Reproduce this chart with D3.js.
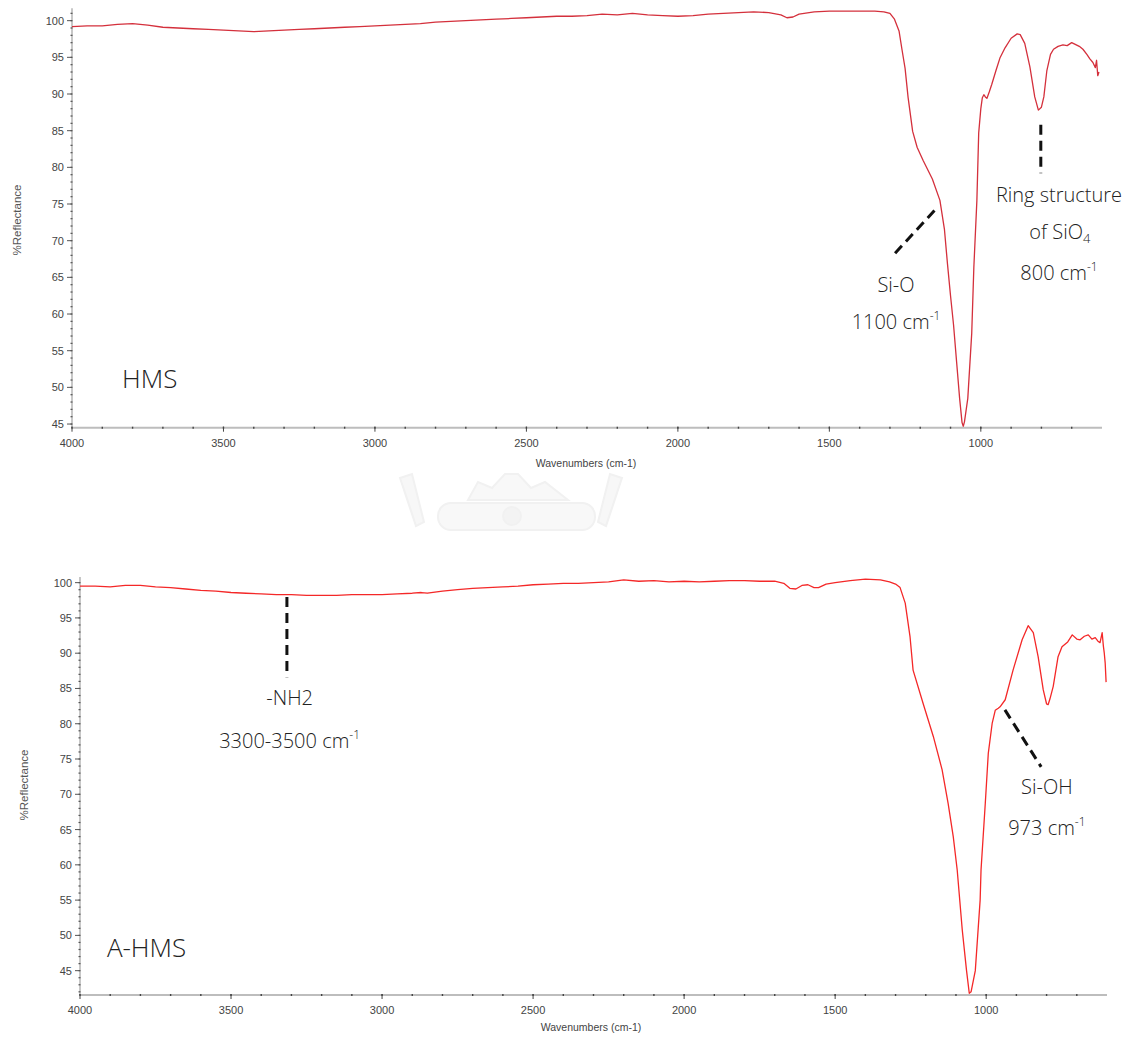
<!DOCTYPE html>
<html>
<head>
<meta charset="utf-8">
<script src="https://cdn.jsdelivr.net/npm/d3@7"></script>
<style>
  html, body { margin: 0; padding: 0; background: #fff; }
  svg { display: block; }
</style>
</head>
<body>
<svg id="chart" width="1134" height="1037"></svg>
<script>
// ---------------- DATA ----------------
const hmsWavenumbers = [4000,3950,3900,3850,3800,3750,3700,3650,3600,3550,3500,3450,3400,3350,3300,3250,3200,3150,3100,3050,3000,2950,2900,2850,2800,2750,2700,2650,2600,2550,2500,2450,2400,2350,2300,2250,2200,2150,2100,2050,2000,1950,1900,1850,1800,1750,1700,1660,1640,1620,1600,1550,1500,1450,1400,1350,1320,1300,1285,1270,1260,1250,1240,1225,1210,1190,1160,1135,1120,1110,1100,1090,1080,1070,1062,1058,1054,1043,1030,1023,1013,1007,1000,995,990,985,980,972,964,950,937,920,900,880,870,855,838,822,810,800,792,782,770,760,745,729,715,700,690,675,663,650,640,630,622,618,614,610];
const hmsValues = [99.2,99.3,99.3,99.5,99.6,99.4,99.1,99.0,98.9,98.8,98.7,98.6,98.5,98.6,98.7,98.8,98.9,99.0,99.1,99.2,99.3,99.4,99.5,99.6,99.8,99.9,100.0,100.1,100.2,100.3,100.4,100.5,100.6,100.6,100.7,100.9,100.8,101.0,100.8,100.7,100.6,100.7,100.9,101.0,101.1,101.2,101.1,100.8,100.4,100.5,100.9,101.2,101.3,101.3,101.3,101.3,101.2,101.0,100.2,98.6,96.0,93.5,89.5,84.9,82.7,80.9,78.4,75.5,71.5,66.8,62.5,58.5,53.5,48.5,45.2,44.7,45.3,48.5,57.4,66.4,75.5,84.7,88.0,89.5,89.9,89.6,89.4,90.3,91.3,93.2,94.9,96.3,97.6,98.2,98.1,96.9,93.7,89.6,87.8,88.2,89.6,93.2,95.4,96.1,96.5,96.7,96.6,97.0,96.8,96.5,96.1,95.4,94.8,94.3,93.6,94.6,92.5,93.0];

const ahmsWavenumbers = [4000,3950,3900,3850,3800,3750,3700,3650,3600,3550,3500,3450,3400,3350,3300,3250,3200,3150,3100,3050,3000,2950,2900,2870,2850,2800,2750,2700,2650,2600,2550,2500,2450,2400,2350,2300,2250,2200,2150,2100,2050,2000,1950,1900,1850,1800,1750,1700,1670,1650,1630,1610,1590,1570,1555,1530,1500,1450,1400,1350,1320,1300,1285,1268,1252,1242,1209,1175,1146,1126,1109,1096,1079,1065,1056,1050,1036,1020,1017,1003,993,980,970,960,954,937,911,881,861,844,828,811,800,795,789,778,762,749,730,715,700,689,675,662,650,639,630,623,616,612,609,606,603];
const ahmsValues = [99.5,99.5,99.4,99.6,99.6,99.4,99.3,99.1,98.9,98.8,98.6,98.5,98.4,98.3,98.3,98.2,98.2,98.2,98.3,98.3,98.3,98.4,98.5,98.6,98.5,98.8,99.0,99.2,99.3,99.4,99.5,99.7,99.8,99.9,99.9,100.0,100.1,100.4,100.2,100.3,100.1,100.2,100.1,100.2,100.3,100.3,100.2,100.2,99.9,99.2,99.1,99.6,99.7,99.3,99.3,99.8,100.0,100.3,100.5,100.4,100.1,99.8,99.3,97.1,92.3,87.6,82.9,78.2,73.5,68.7,64.0,59.3,50.7,45.0,41.8,42.0,45.0,55.0,59.3,68.7,75.8,80.1,81.9,82.2,82.4,83.4,87.6,91.9,93.9,92.9,89.5,84.8,82.8,82.7,83.5,85.3,89.5,90.9,91.6,92.6,92.0,91.9,92.4,92.6,92.0,92.2,91.7,91.5,92.9,91.0,90.0,88.6,85.9];

const xMajorTicks = [4000,3500,3000,2500,2000,1500,1000];
const yMajorTicks = [100,95,90,85,80,75,70,65,60,55,50,45];

// annotations (data units)
const hmsLabels = [
  {w:1280, v:64.0, parts:[["Si-O",""]]},
  {w:1280, v:58.9, parts:[["1100 cm",""],["-1","sup"]]},
  {w:742,  v:76.2, parts:[["Ring structure",""]]},
  {w:739,  v:71.2, parts:[["of SiO",""],["4","sub"]]},
  {w:742,  v:65.6, parts:[["800 cm",""],["-1","sup"]]}
];
const hmsDashes = [ {w1:802, v1:85.8, w2:802, v2:79.2}, {w1:1283, v1:68.3, w2:1151, v2:74.2} ];
const ahmsLabels = [
  {w:3306, v:83.65, parts:[["-NH2",""]]},
  {w:3306, v:77.56, parts:[["3300-3500 cm",""],["-1","sup"]]},
  {w:799,  v:71.04, parts:[["Si-OH",""]]},
  {w:799,  v:65.23, parts:[["973 cm",""],["-1","sup"]]}
];
const ahmsDashes = [ {w1:3315, v1:97.97, w2:3315, v2:86.6}, {w1:938, v1:81.96, w2:818, v2:73.88} ];

// ---------------- DRAW ----------------
const svg = d3.select("#chart");

// very faint watermark
const wm = svg.append("g").attr("fill", "none").attr("stroke", "#f1f1f1").attr("stroke-width", 2);
wm.append("path").attr("d", "M400,478 L412,474 L424,522 L416,526 Z").attr("fill", "#f7f7f7");
wm.append("path").attr("d", "M622,478 L610,474 L598,522 L606,526 Z").attr("fill", "#f7f7f7");
wm.append("path").attr("d", "M468,500 L478,482 L492,488 L505,474 L518,474 L531,488 L545,482 L568,500 Z").attr("fill", "#f8f8f8");
wm.append("rect").attr("x", 438).attr("y", 503).attr("width", 157).attr("height", 27).attr("rx", 13).attr("fill", "#f8f8f8");
wm.append("circle").attr("cx", 512).attr("cy", 516).attr("r", 9).attr("fill", "#f3f3f3");

function panel(cfg) {
  const x = d3.scaleLinear().domain([4000, 600]).range([cfg.left, cfg.right]);
  const y = d3.scaleLinear().domain(cfg.yDomain).range([cfg.bottom, cfg.top]);
  const g = svg.append("g");

  g.append("line").attr("x1", cfg.left).attr("x2", cfg.left)
    .attr("y1", cfg.top).attr("y2", cfg.bottom)
    .attr("stroke", "#b5b5b5").attr("stroke-width", 1.5);
  const yMin = d3.range(Math.ceil(cfg.yDomain[0]), Math.floor(cfg.yDomain[1]) + 1);
  g.selectAll(".ymin").data(yMin).join("line")
    .attr("x1", cfg.left - 1.5).attr("x2", cfg.left + 0.5)
    .attr("y1", d => y(d)).attr("y2", d => y(d))
    .attr("stroke", "#555").attr("stroke-width", 1.2);
  g.selectAll(".ymaj").data(yMajorTicks).join("line")
    .attr("x1", cfg.left - 5).attr("x2", cfg.left)
    .attr("y1", d => y(d)).attr("y2", d => y(d))
    .attr("stroke", "#555").attr("stroke-width", 1);
  g.selectAll(".ylab").data(yMajorTicks).join("text")
    .attr("x", cfg.left - 8).attr("y", d => y(d) + 4)
    .attr("text-anchor", "end")
    .attr("font-family", "Liberation Sans, Arial, sans-serif")
    .attr("font-size", 11).attr("fill", "#444")
    .text(d => d);

  g.append("line").attr("x1", cfg.left).attr("x2", cfg.right)
    .attr("y1", cfg.bottom).attr("y2", cfg.bottom)
    .attr("stroke", "#bdbdbd").attr("stroke-width", 2);
  const xMin = d3.range(4000, 600, -100);
  g.selectAll(".xmin").data(xMin).join("line")
    .attr("x1", d => x(d)).attr("x2", d => x(d))
    .attr("y1", cfg.bottom - 1).attr("y2", cfg.bottom + 1)
    .attr("stroke", "#444").attr("stroke-width", 1.4);
  g.selectAll(".xmaj").data(xMajorTicks).join("line")
    .attr("x1", d => x(d)).attr("x2", d => x(d))
    .attr("y1", cfg.bottom - 1).attr("y2", cfg.bottom + 4)
    .attr("stroke", "#444").attr("stroke-width", 1);
  g.selectAll(".xlab").data(xMajorTicks).join("text")
    .attr("x", d => x(d)).attr("y", cfg.bottom + 19)
    .attr("text-anchor", "middle")
    .attr("font-family", "Liberation Sans, Arial, sans-serif")
    .attr("font-size", 11).attr("fill", "#444")
    .text(d => d);

  g.append("text").attr("x", cfg.xTitleX).attr("y", cfg.xTitleY)
    .attr("text-anchor", "middle")
    .attr("font-family", "Liberation Sans, Arial, sans-serif")
    .attr("font-size", 10.5).attr("fill", "#444")
    .text("Wavenumbers (cm-1)");
  g.append("text")
    .attr("transform", `translate(${cfg.yTitleX},${cfg.yTitleY}) rotate(-90)`)
    .attr("text-anchor", "middle")
    .attr("font-family", "Liberation Sans, Arial, sans-serif")
    .attr("font-size", 11.5).attr("fill", "#555")
    .text("%Reflectance");

  const pts = cfg.w.map((w, i) => [w, cfg.v[i]]);
  g.append("path").datum(pts)
    .attr("fill", "none").attr("stroke", cfg.color).attr("stroke-width", 1.3)
    .attr("stroke-linejoin", "round")
    .attr("d", d3.line().x(d => x(d[0])).y(d => y(d[1])));

  g.selectAll(".dash").data(cfg.dashes).join("line")
    .attr("x1", d => x(d.w1)).attr("y1", d => y(d.v1))
    .attr("x2", d => x(d.w2)).attr("y2", d => y(d.v2))
    .attr("stroke", "#111").attr("stroke-width", 3).attr("stroke-dasharray", "10,6");

  cfg.labels.forEach(l => {
    const t = g.append("text").attr("x", x(l.w)).attr("y", y(l.v) + 7)
      .attr("text-anchor", "middle")
      .attr("font-family", "Open Sans, Noto Sans, sans-serif")
      .attr("font-weight", 300)
      .attr("font-size", 20).attr("fill", "#222");
    l.parts.forEach(p => {
      const s = t.append("tspan").text(p[0]);
      if (p[1] === "sup") s.attr("font-size", 12).attr("dy", -9);
      if (p[1] === "sub") s.attr("font-size", 13).attr("dy", 4);
    });
  });

  g.append("text").attr("x", x(cfg.name.w)).attr("y", y(cfg.name.v))
    .attr("font-family", "Open Sans, Noto Sans, sans-serif")
    .attr("font-weight", 300)
    .attr("font-size", 26).attr("fill", "#222")
    .text(cfg.name.text);
}

panel({
  left: 72, right: 1102, top: 8.2, bottom: 427.7, yDomain: [44.5, 101.7],
  w: hmsWavenumbers, v: hmsValues, color: "#d4303c",
  dashes: hmsDashes, labels: hmsLabels,
  name: {text: "HMS", w: 3835, v: 49.9},
  xTitleX: 586, xTitleY: 467, yTitleX: 21, yTitleY: 220
});
panel({
  left: 80, right: 1107, top: 577, bottom: 995, yDomain: [41.55, 100.8],
  w: ahmsWavenumbers, v: ahmsValues, color: "#f42828",
  dashes: ahmsDashes, labels: ahmsLabels,
  name: {text: "A-HMS", w: 3911, v: 46.95},
  xTitleX: 591, xTitleY: 1031, yTitleX: 28, yTitleY: 785
});
</script>
</body>
</html>
